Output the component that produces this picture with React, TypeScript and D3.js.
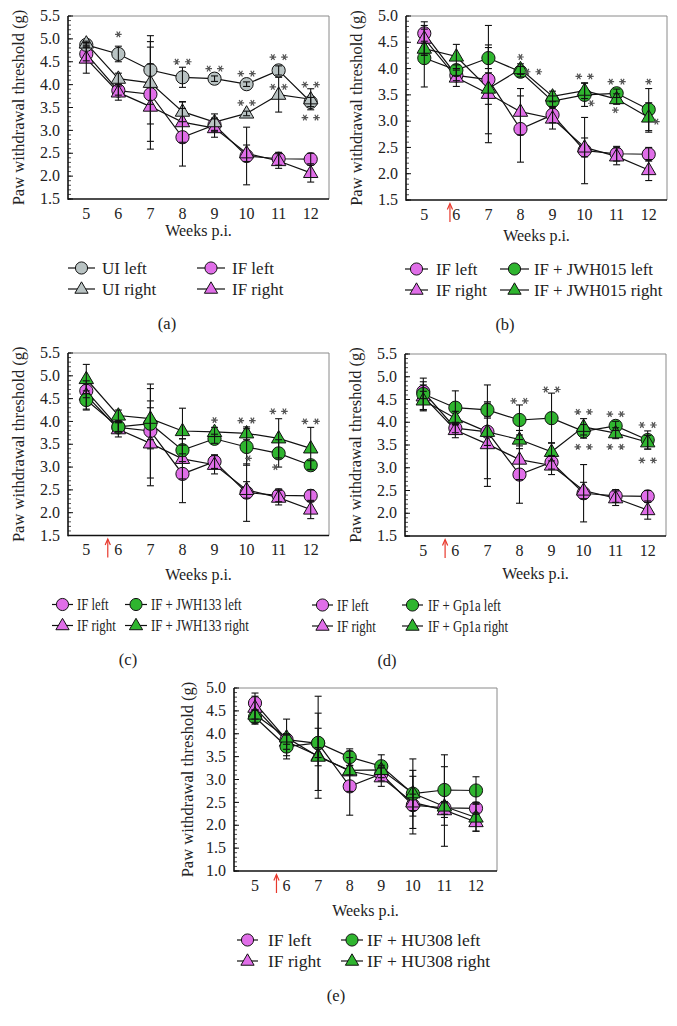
import React from "react";
import * as d3 from "d3";

// ---------- DATA ----------
const weeks = [5, 6, 7, 8, 9, 10, 11, 12];

const ifLeft = [4.67, 3.87, 3.79, 2.85, 3.12, 2.44, 2.38, 2.37];
const ifLeftErr = [0.15, 0.1, 1.03, 0.63, 0.15, 0.63, 0.14, 0.13];
const ifRight = [4.57, 3.83, 3.52, 3.18, 3.05, 2.5, 2.33, 2.07];
const ifRightErr = [0.32, 0.17, 0.93, 0.44, 0.2, 0.18, 0.16, 0.2];

const uiLeft = [4.87, 4.67, 4.32, 4.16, 4.13, 4.01, 4.31, 3.62];
const uiLeftErr = [0.05, 0.17, 0.75, 0.22, 0.06, 0.05, 0.1, 0.1];
const uiRight = [4.9, 4.13, 4.04, 3.41, 3.18, 3.37, 3.78, 3.68];
const uiRightErr = [0.05, 0.12, 0.9, 0.22, 0.18, 0.05, 0.38, 0.23];

const jwh015Left = [4.2, 3.97, 4.2, 3.94, 3.38, 3.5, 3.53, 3.22];
const jwh015LeftErr = [0.55, 0.1, 0.2, 0.1, 0.1, 0.22, 0.08, 0.4];
const jwh015Right = [4.38, 4.23, 3.62, 3.99, 3.47, 3.58, 3.42, 3.07];
const jwh015RightErr = [0.1, 0.23, 0.3, 0.1, 0.1, 0.15, 0.1, 0.28];

const jwh133Left = [4.47, 3.88, 3.95, 3.37, 3.62, 3.44, 3.3, 3.04];
const jwh133LeftErr = [0.2, 0.1, 0.35, 0.25, 0.1, 0.4, 0.3, 0.1];
const jwh133Right = [4.93, 4.13, 4.06, 3.79, 3.77, 3.74, 3.63, 3.41];
const jwh133RightErr = [0.32, 0.12, 0.66, 0.5, 0.1, 0.14, 0.43, 0.46];

const gp1aLeft = [4.62, 4.32, 4.27, 4.05, 4.09, 3.8, 3.92, 3.61];
const gp1aLeftErr = [0.35, 0.37, 0.15, 0.33, 0.55, 0.15, 0.1, 0.2];
const gp1aRight = [4.48, 4.09, 3.79, 3.62, 3.35, 3.9, 3.76, 3.56];
const gp1aRightErr = [0.2, 0.15, 0.3, 0.2, 0.2, 0.18, 0.12, 0.15];

const hu308Left = [4.36, 3.72, 3.8, 3.49, 3.29, 2.69, 2.77, 2.76];
const hu308LeftErr = [0.15, 0.27, 0.32, 0.18, 0.25, 0.76, 0.77, 0.3];
const hu308Right = [4.42, 3.92, 3.5, 3.2, 3.21, 2.7, 2.41, 2.17];
const hu308RightErr = [0.1, 0.4, 0.2, 0.1, 0.1, 0.5, 0.87, 0.3];

// significance marks: [week, value at mark centre, number of asterisks]
const starsA: [number, number, number][] = [
  [6, 5.1, 1], [8, 4.5, 2], [9, 4.35, 2], [10, 4.24, 2],
  [11, 4.6, 2], [12, 4.0, 2], [10, 3.6, 2], [11, 3.95, 2], [12, 3.28, 2],
];
const starsB: [number, number, number][] = [
  [8, 4.22, 1], [8.39, 3.94, 2], [10, 3.85, 2], [10.21, 3.34, 1],
  [11, 3.75, 2], [10.96, 3.21, 1], [12, 3.75, 1], [12.24, 2.99, 1],
];
const starsC: [number, number, number][] = [
  [9, 4.03, 1], [10, 4.02, 2], [10.06, 3.19, 1], [11, 4.22, 2],
  [10.9, 3.0, 1], [12, 4.0, 2],
];
const starsD: [number, number, number][] = [
  [8, 4.47, 2], [9, 4.72, 2], [10, 4.23, 2], [10, 3.46, 2],
  [11, 4.18, 2], [11, 3.46, 2], [12, 3.94, 2], [12, 3.16, 2],
];

const xTickLabels = ["5", "6", "7", "8", "9", "10", "11", "12"];

// ---------- STYLE ----------
const FONT = "Liberation Serif, Times New Roman, DejaVu Serif, serif";
const GREY = "#b9c3c3";
const MAGENTA = "#e06ee8";
const GREEN = "#2fb52f";

type Shape = "circle" | "triangle";
type Series = { name: string; values: number[]; errors: number[]; shape: Shape; color: string };

const S = (name: string, values: number[], errors: number[], shape: Shape, color: string): Series => ({
  name, values, errors, shape, color,
});

const sIFL = S("IF left", ifLeft, ifLeftErr, "circle", MAGENTA);
const sIFR = S("IF right", ifRight, ifRightErr, "triangle", MAGENTA);
const sUIL = S("UI left", uiLeft, uiLeftErr, "circle", GREY);
const sUIR = S("UI right", uiRight, uiRightErr, "triangle", GREY);
const sJ015L = S("IF + JWH015 left", jwh015Left, jwh015LeftErr, "circle", GREEN);
const sJ015R = S("IF + JWH015 right", jwh015Right, jwh015RightErr, "triangle", GREEN);
const sJ133L = S("IF + JWH133 left", jwh133Left, jwh133LeftErr, "circle", GREEN);
const sJ133R = S("IF + JWH133 right", jwh133Right, jwh133RightErr, "triangle", GREEN);
const sGpL = S("IF + Gp1a left", gp1aLeft, gp1aLeftErr, "circle", GREEN);
const sGpR = S("IF + Gp1a right", gp1aRight, gp1aRightErr, "triangle", GREEN);
const sHuL = S("IF + HU308 left", hu308Left, hu308LeftErr, "circle", GREEN);
const sHuR = S("IF + HU308 right", hu308Right, hu308RightErr, "triangle", GREEN);

type PanelCfg = {
  label: string; labelX: number;
  left: number; right: number; top: number; bottom: number; pad: number;
  yMin: number; yMax: number;
  drawOrder: Series[];
  legendCols: { lx1: number; lx2: number; tx: number; items: Series[] }[];
  legendScale: number;
  legendFont: number;
  stars: [number, number, number][];
  arrow: number | null;
  weeksDy: number;
  titleDx: number;
};

const panels: PanelCfg[] = [
  {
    label: "(a)", labelX: 167, left: 68, right: 329, top: 16, bottom: 199, pad: 18.3,
    yMin: 1.5, yMax: 5.5,
    drawOrder: [sIFL, sIFR, sUIL, sUIR],
    legendCols: [
      { lx1: 68, lx2: 95, tx: 102, items: [sUIL, sUIR] },
      { lx1: 197, lx2: 225, tx: 232, items: [sIFL, sIFR] },
    ],
    legendScale: 1, legendFont: 17, stars: starsA, arrow: null, weeksDy: 31, titleDx: 50,
  },
  {
    label: "(b)", labelX: 505, left: 406, right: 667, top: 16, bottom: 200, pad: 18.3,
    yMin: 1.5, yMax: 5.0,
    drawOrder: [sIFL, sIFR, sJ015L, sJ015R],
    legendCols: [
      { lx1: 405, lx2: 428, tx: 436, items: [sIFL, sIFR] },
      { lx1: 500, lx2: 529, tx: 534, items: [sJ015L, sJ015R] },
    ],
    legendScale: 1, legendFont: 16.8, stars: starsB, arrow: 5.8, weeksDy: 35, titleDx: 50,
  },
  {
    label: "(c)", labelX: 128, left: 68, right: 329, top: 353, bottom: 535.5, pad: 18.3,
    yMin: 1.5, yMax: 5.5,
    drawOrder: [sIFL, sIFR, sJ133L, sJ133R],
    legendCols: [
      { lx1: 52, lx2: 73, tx: 77, items: [sIFL, sIFR] },
      { lx1: 125, lx2: 147, tx: 151, items: [sJ133L, sJ133R] },
    ],
    legendScale: 0.8, legendFont: 16, stars: starsC, arrow: 5.67, weeksDy: 39, titleDx: 50,
  },
  {
    label: "(d)", labelX: 387, left: 405, right: 666, top: 354, bottom: 536, pad: 18.3,
    yMin: 1.5, yMax: 5.5,
    drawOrder: [sIFL, sIFR, sGpL, sGpR],
    legendCols: [
      { lx1: 312, lx2: 333, tx: 337, items: [sIFL, sIFR] },
      { lx1: 402, lx2: 423, tx: 428, items: [sGpL, sGpR] },
    ],
    legendScale: 0.8, legendFont: 16, stars: starsD, arrow: 5.68, weeksDy: 37, titleDx: 50,
  },
  {
    label: "(e)", labelX: 336, left: 234, right: 497, top: 688, bottom: 871, pad: 21,
    yMin: 1.0, yMax: 5.0,
    drawOrder: [sIFL, sIFR, sHuL, sHuR],
    legendCols: [
      { lx1: 237, lx2: 258, tx: 268, items: [sIFL, sIFR] },
      { lx1: 341, lx2: 363, tx: 367, items: [sHuL, sHuR] },
    ],
    legendScale: 1, legendFont: 17.5, stars: [], arrow: 5.68, weeksDy: 39, titleDx: 47,
  },
];

const txt: React.CSSProperties = { fontFamily: FONT };
const asterisk = d3.symbol().type(d3.symbolAsterisk).size(30)() || "";

function Marker({ shape, cx, cy, color, size = 1 }: { shape: Shape; cx: number; cy: number; color: string; size?: number }) {
  if (shape === "circle") {
    return <circle cx={cx} cy={cy} r={6.6 * size} fill={color} stroke="#111" strokeWidth={1} />;
  }
  const w = 7.2 * size;
  const p = `M${cx},${cy - 7.8 * size}L${cx + w},${cy + 4.6 * size}L${cx - w},${cy + 4.6 * size}Z`;
  return <path d={p} fill={color} stroke="#111" strokeWidth={1} />;
}

function Stars({ cx, cy, n }: { cx: number; cy: number; n: number }) {
  const offs = n === 1 ? [0] : [-5.8, 5.8];
  return (
    <g>
      {offs.map((o, i) => (
        <path key={i} d={asterisk} transform={`translate(${cx + o},${cy}) rotate(90)`} fill="none" stroke="#555" strokeWidth={1.2} />
      ))}
    </g>
  );
}

function Panel({ p }: { p: PanelCfg }) {
  const x = d3.scaleLinear().domain([5, 12]).range([p.left + p.pad, p.right - p.pad]);
  const y = d3.scaleLinear().domain([p.yMin, p.yMax]).range([p.bottom, p.top]);
  const line = d3.line<number>().x((_, i) => x(weeks[i])).y((d) => y(d));
  const majors = d3.range(Math.round(p.yMin * 10), Math.round(p.yMax * 10) + 1, 5).map((v) => v / 10);
  const minors = d3.range(Math.round(p.yMin * 10), Math.round(p.yMax * 10) + 1).map((v) => v / 10);
  const midY = (p.top + p.bottom) / 2;
  const midX = (p.left + p.right) / 2;
  const rows = [p.bottom + 69, p.bottom + 90];

  return (
    <g>
      <line x1={p.left} x2={p.right} y1={p.top} y2={p.top} stroke="#8a8a8a" strokeWidth={1} />
      <line x1={p.right} x2={p.right} y1={p.top} y2={p.bottom} stroke="#8a8a8a" strokeWidth={1} />
      {minors.map((v) => (
        <line key={"mi" + v} x1={p.left} x2={p.left + 3} y1={y(v)} y2={y(v)} stroke="#222" strokeWidth={0.8} />
      ))}
      {majors.map((v) => (
        <g key={"ma" + v}>
          <line x1={p.left} x2={p.left + 5} y1={y(v)} y2={y(v)} stroke="#111" strokeWidth={1} />
          <text x={p.left - 8} y={y(v) + 5.2} style={txt} fontSize={16} textAnchor="end" fill="#222">
            {v.toFixed(1)}
          </text>
        </g>
      ))}
      <line x1={p.left} x2={p.left} y1={p.top} y2={p.bottom + 0.75} stroke="#111" strokeWidth={1.6} />
      <line x1={p.left} x2={p.right} y1={p.bottom} y2={p.bottom} stroke="#111" strokeWidth={1.6} />
      {weeks.map((w, i) => (
        <text key={"xt" + w} x={x(w)} y={p.bottom + 19.5} style={txt} fontSize={16} textAnchor="middle" fill="#222">
          {xTickLabels[i]}
        </text>
      ))}
      <text x={midX} y={p.bottom + p.weeksDy + 5.5} style={txt} fontSize={16} textAnchor="middle" fill="#222">
        Weeks p.i.
      </text>
      <text
        transform={`translate(${p.left - p.titleDx + 5.5},${midY}) rotate(-90)`}
        style={txt} fontSize={16.5} textAnchor="middle" fill="#222"
      >
        Paw withdrawal threshold (g)
      </text>
      {p.arrow !== null && (
        <g stroke="#e8382c" strokeWidth={1.2} fill="none">
          <line x1={x(p.arrow)} x2={x(p.arrow)} y1={p.bottom + 4} y2={p.bottom + 22} />
          <path d={`M${x(p.arrow) - 2.6},${p.bottom + 9.5}L${x(p.arrow)},${p.bottom + 3.5}L${x(p.arrow) + 2.6},${p.bottom + 9.5}`} />
        </g>
      )}
      {p.drawOrder.map((s) => (
        <path key={"l" + s.name} d={line(s.values) || ""} fill="none" stroke="#111" strokeWidth={1.2} />
      ))}
      {p.drawOrder.map((s) => (
        <g key={"m" + s.name}>
          {s.values.map((v, i) => (
            <Marker key={i} shape={s.shape} cx={x(weeks[i])} cy={y(v)} color={s.color} />
          ))}
        </g>
      ))}
      {p.drawOrder.map((s) => (
        <g key={"e" + s.name} stroke="#111" strokeWidth={1.1}>
          {s.values.map((v, i) => {
            const cx = x(weeks[i]);
            const y1 = y(v + s.errors[i]);
            const y2 = y(v - s.errors[i]);
            return (
              <g key={i}>
                <line x1={cx} x2={cx} y1={y1} y2={y2} />
                <line x1={cx - 3.5} x2={cx + 3.5} y1={y1} y2={y1} />
                <line x1={cx - 3.5} x2={cx + 3.5} y1={y2} y2={y2} />
              </g>
            );
          })}
        </g>
      ))}
      {p.stars.map(([w, v, n], i) => (
        <Stars key={"st" + i} cx={x(w)} cy={y(v)} n={n} />
      ))}
      {p.legendCols.map((c, ci) => (
        <g key={"lg" + ci}>
          {c.items.map((s, ri) => (
            <g key={s.name}>
              <line x1={c.lx1} x2={c.lx2} y1={rows[ri]} y2={rows[ri]} stroke="#111" strokeWidth={1.2} />
              <Marker shape={s.shape} cx={(c.lx1 + c.lx2) / 2} cy={rows[ri]} color={s.color} size={0.92} />
              <text
                transform={`translate(${c.tx},${rows[ri] + 5.5}) scale(${p.legendScale},1)`}
                style={txt} fontSize={p.legendFont} fill="#222"
              >
                {s.name}
              </text>
            </g>
          ))}
        </g>
      ))}
      <text x={p.labelX} y={p.bottom + 129.5} style={txt} fontSize={16.5} textAnchor="middle" fill="#222">
        {p.label}
      </text>
    </g>
  );
}

export default function App() {
  return (
    <svg
      width={677}
      height={1026}
      viewBox="0 0 677 1026"
      style={{ position: "absolute", left: 0, top: 0, background: "#fff" }}
    >
      <rect x={0} y={0} width={677} height={1026} fill="#fff" />
      {panels.map((p) => (
        <Panel key={p.label} p={p} />
      ))}
    </svg>
  );
}
